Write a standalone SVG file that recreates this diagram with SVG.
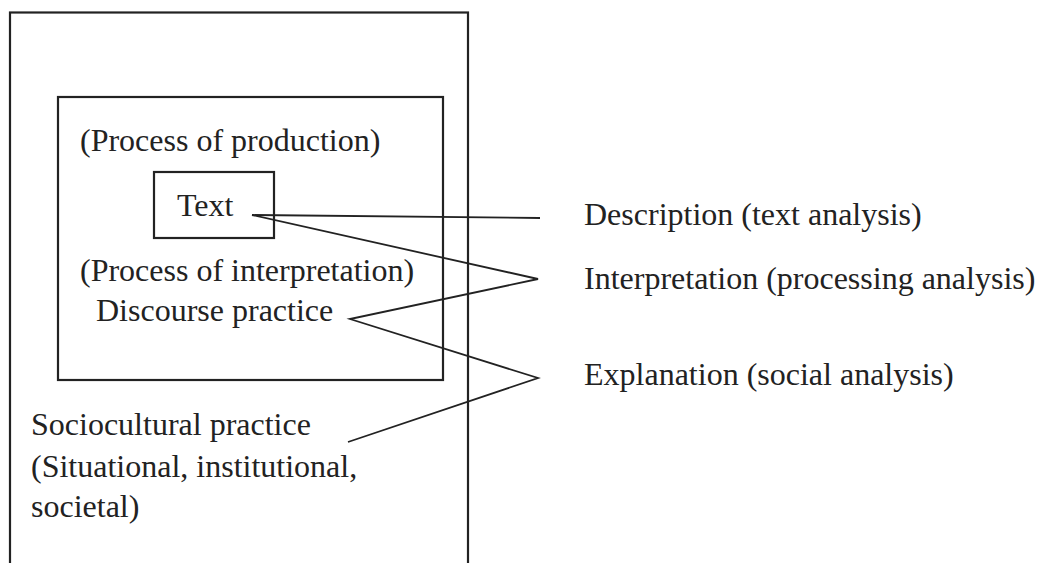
<svg xmlns="http://www.w3.org/2000/svg" width="1042" height="563" viewBox="0 0 1042 563">
<style>
.box{fill:none;stroke:#222;stroke-width:2.2}
.ln{fill:none;stroke:#222;stroke-width:1.8}
text{font-family:"Liberation Serif","Times New Roman",serif;font-size:32px;fill:#222}
</style>
<rect width="1042" height="563" fill="#fff"/>
<g id="sociocultural">
<rect class="box" x="10" y="12.5" width="458" height="560"/>
<text x="31" y="435">Sociocultural practice</text>
<text x="31" y="477">(Situational, institutional,</text>
<text x="31" y="517">societal)</text>
</g>
<g id="discourse">
<rect class="box" x="58" y="97" width="385" height="283"/>
<text x="80" y="151">(Process of production)</text>
<text x="80" y="281">(Process of interpretation)</text>
<text x="96" y="321">Discourse practice</text>
</g>
<g id="text-node">
<rect class="box" x="154" y="172" width="120" height="66"/>
<text x="177" y="216">Text</text>
</g>
<g id="description"><text x="584" y="225">Description (text analysis)</text></g>
<g id="interpretation"><text x="584" y="289">Interpretation (processing analysis)</text></g>
<g id="explanation"><text x="584" y="385">Explanation (social analysis)</text></g>
<g id="connectors">
<polyline class="ln" points="252,215 540,218"/>
<polyline class="ln" points="252,215 538,279 350,319 538,378 348,442"/>
</g>
</svg>
